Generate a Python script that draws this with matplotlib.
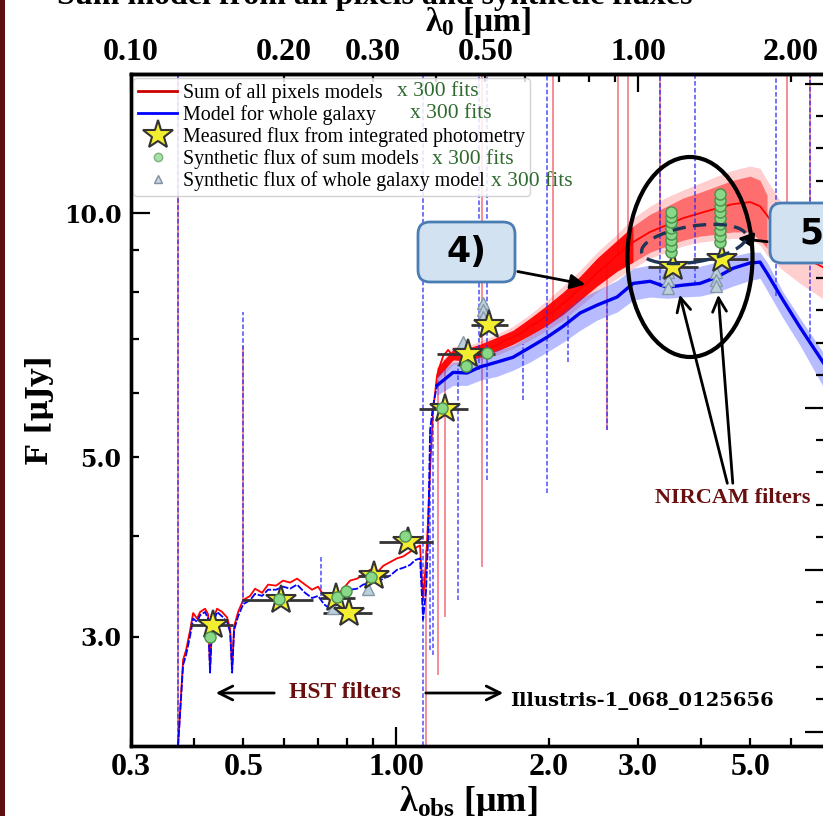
import numpy as np
import matplotlib
matplotlib.use("Agg")
import matplotlib.pyplot as plt
from matplotlib.lines import Line2D
from matplotlib.patches import Ellipse, FancyBboxPatch, Rectangle, FancyArrowPatch
from matplotlib.ticker import FixedLocator, FuncFormatter, MultipleLocator
from matplotlib.transforms import IdentityTransform

# ------------------------------------------------------------------ data
# UV part (observed wavelength, micron) shared by both model spectra
uv_wl = [0.3715, 0.3801, 0.3853, 0.3925, 0.3978, 0.4051, 0.4106, 0.4200, 0.4257, 0.4296,
         0.4335, 0.4435, 0.4537, 0.4642, 0.4706, 0.4749, 0.4792, 0.4880, 0.4992, 0.5152,
         0.5270, 0.5441, 0.5591, 0.5798, 0.5985, 0.6178, 0.6378, 0.6613, 0.6827, 0.7018,
         0.7211, 0.7411, 0.7649, 0.7861, 0.8115, 0.8378, 0.8609, 0.8886, 0.9174, 0.9427,
         0.9731, 1.0045, 1.0323, 1.0656, 1.0901, 1.1151]
red_uv = [2.20, 2.81, 2.89, 3.06, 3.21, 3.16, 3.22, 3.25, 3.20, 2.74,
          3.13, 3.25, 3.22, 3.17, 3.07, 2.74, 3.09, 3.22, 3.33, 3.37,
          3.44, 3.40, 3.48, 3.47, 3.52, 3.50, 3.54, 3.48, 3.43, 3.46,
          3.37, 3.33, 3.37, 3.44, 3.52, 3.54, 3.58, 3.63, 3.60, 3.67,
          3.71, 3.75, 3.77, 3.82, 3.86, 3.89]
blue_uv = [2.20, 2.77, 2.85, 3.01, 3.16, 3.13, 3.19, 3.22, 3.16, 2.71,
           3.09, 3.22, 3.18, 3.13, 3.04, 2.71, 3.06, 3.18, 3.29, 3.33,
           3.39, 3.37, 3.43, 3.43, 3.46, 3.44, 3.48, 3.40, 3.35, 3.37,
           3.29, 3.25, 3.29, 3.35, 3.43, 3.44, 3.48, 3.50, 3.50, 3.54,
           3.57, 3.63, 3.65, 3.68, 3.73, 3.75]

# Balmer / 4000A break
break_wl = [1.1305, 1.1460, 1.1564, 1.1670, 1.1830]
red_break = [3.33, 3.73, 4.18, 4.82, 5.71]
blue_break = [3.15, 3.43, 3.95, 5.40, 5.79]

# red (sum of pixel models) median after the break
red_post_wl = [1.2048, 1.2213, 1.2380, 1.2664, 1.2955, 1.3374, 1.3804, 1.4249, 1.4643, 1.5186,
               1.5821, 1.6406, 1.7013, 1.7642, 1.8377, 1.9055, 1.9862, 2.0591, 2.1352, 2.2138,
               2.3069, 2.3911, 2.4918, 2.6078, 2.7290, 2.8296, 2.9350, 3.1696, 3.4223, 3.6825,
               3.9774, 4.2963, 4.6216, 4.9918, 5.223, 5.392, 5.799, 6.263, 7.018]
red_post = [6.31, 6.49, 6.66, 6.78, 6.66, 6.74, 6.68, 6.78, 6.74, 6.81,
            6.87, 6.97, 7.03, 7.11, 7.25, 7.34, 7.48, 7.59, 7.74, 7.88,
            8.08, 8.22, 8.45, 8.63, 8.87, 9.05, 9.21, 9.48, 9.67, 9.86,
            10.0, 10.14, 10.26, 10.32, 10.20, 9.94, 9.26, 8.87, 8.55]

# spread of the 300 fits (band grid)
band_wl = [1.2048, 1.2955, 1.3804, 1.4643, 1.5821, 1.7013, 1.8377, 1.9862, 2.1352, 2.3069,
           2.4918, 2.7290, 2.9350, 3.1696, 3.4223, 3.6825, 3.9774, 4.2963, 4.6216, 4.9918,
           5.223, 5.392, 5.799, 6.263, 7.018]
red_outer_lo = [6.19, 6.51, 6.51, 6.59, 6.68, 6.81, 6.97, 7.17, 7.38, 7.68,
                7.99, 8.31, 8.55, 8.80, 8.95, 9.11, 9.21, 9.26, 9.31, 9.31,
                9.13, 8.87, 8.50, 8.19, 7.81]
red_outer_hi = [6.47, 6.85, 6.85, 6.95, 7.09, 7.25, 7.50, 7.81, 8.13, 8.50,
                8.95, 9.42, 9.86, 10.20, 10.47, 10.68, 10.89, 11.11, 11.30, 11.43,
                11.36, 10.98, 10.23, 9.80, 9.26]
red_core_lo = [6.26, 6.59, 6.57, 6.64, 6.76, 6.89, 7.07, 7.27, 7.50, 7.81,
               8.13, 8.48, 8.70, 8.95, 9.11, 9.26, 9.37, 9.42, 9.48, 9.48,
               9.26, 9.05, 8.70, 8.38, 8.03]
red_core_hi = [6.44, 6.79, 6.81, 6.89, 7.03, 7.17, 7.42, 7.70, 7.99, 8.36,
               8.80, 9.26, 9.64, 9.97, 10.20, 10.44, 10.61, 10.80, 10.98, 11.11,
               10.98, 10.52, 9.75, 9.31, 9.00]
blue_post = [6.13, 6.36, 6.35, 6.46, 6.55, 6.64, 6.83, 7.03, 7.25, 7.53,
             7.70, 7.88, 8.19, 8.24, 8.10, 8.15, 8.19, 8.34, 8.55, 8.68,
             8.70, 8.43, 7.81, 7.23, 6.49]
blue_band_lo = [5.96, 6.13, 6.13, 6.22, 6.29, 6.40, 6.55, 6.74, 6.93, 7.17,
                7.38, 7.55, 7.81, 7.88, 7.85, 7.88, 7.90, 7.99, 8.13, 8.26,
                8.31, 8.03, 7.42, 6.87, 6.05]
blue_band_hi = [6.31, 6.55, 6.55, 6.66, 6.78, 6.87, 7.07, 7.27, 7.55, 7.85,
                8.03, 8.26, 8.55, 8.63, 8.50, 8.55, 8.60, 8.70, 8.85, 8.95,
                8.95, 8.70, 7.99, 7.42, 6.68]

# emission / absorption line features (wavelength, lower flux, upper flux)
red_line_wl = [0.3715, 0.4992, 1.146, 1.210, 1.249, 1.478, 2.040, 2.608, 2.741, 2.868, 3.317, 5.904, 6.555]
red_line_lo = [2.2, 3.33, 2.2, 2.69, 3.17, 3.66, 7.38, 5.40, 8.9, 9.1, 9.6, 9.2, 8.7]
red_line_hi = [15, 6.85, 3.84, 6.22, 6.59, 15, 15, 8.6, 15, 15, 15, 15, 15]
blue_line_wl = [0.3715, 0.4992, 0.7113, 1.1305, 1.167, 1.183, 1.325, 1.458, 1.512, 1.780,
                1.986, 2.184, 2.608, 3.317, 3.888, 5.616, 6.555]
blue_line_lo = [2.2, 3.29, 3.37, 2.2, 2.89, 2.85, 3.33, 6.4, 4.68, 5.88,
                4.51, 6.55, 5.40, 8.1, 8.15, 7.9, 7.0]
blue_line_hi = [15, 7.55, 3.76, 15, 5.4, 5.8, 6.5, 15, 15, 6.9,
                15, 7.5, 7.8, 15, 15, 15, 15]

# measured photometry (filter centre, flux, filter edges)
phot_wl = [0.4355, 0.593, 0.76, 0.808, 0.905, 1.056, 1.249, 1.387, 1.526, 3.52, 4.40]
phot_flux = [3.10, 3.33, 3.35, 3.21, 3.57, 3.93, 5.74, 6.71, 7.27, 8.58, 8.77]
phot_lo = [0.393, 0.497, 0.708, 0.718, 0.841, 0.926, 1.110, 1.205, 1.406, 3.14, 3.85]
phot_hi = [0.477, 0.686, 0.830, 0.897, 0.964, 1.183, 1.387, 1.568, 1.663, 3.94, 4.95]

# synthetic fluxes of the sum models (x 300 fits)
sum_wl = [0.4296, 0.5878, 0.7649, 0.7969, 0.8927, 1.0418, 1.2322, 1.374, 1.512,
          3.486, 3.486, 3.486, 3.486, 3.486, 3.486, 3.486, 3.486,
          4.356, 4.356, 4.356, 4.356, 4.356, 4.356, 4.356, 4.356, 4.356]
sum_flux = [3.00, 3.34, 3.36, 3.42, 3.56, 4.00, 5.75, 6.47, 6.72,
            8.95, 9.11, 9.26, 9.42, 9.58, 9.75, 9.89, 10.03,
            9.21, 9.37, 9.53, 9.69, 9.86, 10.03, 10.20, 10.38, 10.56]

# synthetic fluxes of the whole galaxy model (x 300 fits)
gal_wl = [0.751, 0.881, 1.356, 1.484, 1.484, 1.484, 3.439, 3.439, 3.439, 4.278, 4.278, 4.278]
gal_flux = [3.26, 3.44, 6.93, 7.74, 7.59, 7.44, 8.46, 8.26, 8.08, 8.46, 8.28, 8.13]

# axis ticks
x_major = [1.0]
x_minor = [0.3, 0.4, 0.5, 0.6, 0.7, 0.8, 0.9, 2.0, 3.0, 4.0, 5.0, 6.0, 7.0]
x_minor_labelled = [0.3, 0.5, 2.0, 3.0, 5.0]
top_major = [0.1, 1.0]
top_minor = [0.2, 0.3, 0.4, 0.5, 0.6, 0.7, 0.8, 0.9, 2.0]
top_minor_labelled = [0.2, 0.3, 0.5, 2.0]
y_major = [10.0]
y_minor = [3.0, 4.0, 5.0, 6.0, 7.0, 8.0, 9.0]
y_minor_labelled = [3.0, 5.0]
redshift = 2.0

# ------------------------------------------------------------------ figure
W, H = 823, 816
plt.rcParams['font.family'] = ['Liberation Serif', 'DejaVu Serif']
plt.rcParams['font.weight'] = 'bold'
plt.rcParams['mathtext.fontset'] = 'custom'
plt.rcParams['mathtext.rm'] = 'Liberation Serif'
plt.rcParams['mathtext.bf'] = 'Liberation Serif:bold'
plt.rcParams['mathtext.it'] = 'Liberation Serif:italic'

fig = plt.figure(figsize=(W / 100, H / 100), dpi=100)
ax = fig.add_axes([131 / W, 70 / H, 693.5 / W, 672 / H])
ax.set_xscale('log')
ax.set_yscale('log')
ax.set_xlim(0.3, 7.0)
ax.set_ylim(2.2, 14.85)

bw = np.array(band_wl)
# red band (300 fits)
ax.fill_between(band_wl, red_outer_lo, red_outer_hi, color='#ff2020', alpha=0.22, lw=0, zorder=1)
ax.fill_between(band_wl, red_core_lo, red_core_hi, where=(bw >= 2.93) & (bw <= 5.4),
                color='#ff1010', alpha=0.5, lw=0, zorder=1)
ax.fill_between(band_wl, red_core_lo, red_core_hi, where=bw <= 2.94,
                color='#ff0000', alpha=0.95, lw=0, zorder=2)
red_wl = uv_wl + break_wl + red_post_wl
red_flux = red_uv + red_break + red_post
ax.plot(red_wl, red_flux, color='#ff0000', lw=1.3, zorder=2)
ax.vlines(red_line_wl, red_line_lo, red_line_hi, colors='#ee2030', lw=1.1, alpha=0.65, zorder=1)

# blue (whole galaxy model)
ax.fill_between(band_wl, blue_band_lo, blue_band_hi, color='#3040ff', alpha=0.35, lw=0, zorder=3)
blue_wl = uv_wl + break_wl + band_wl
blue_flux = blue_uv + blue_break + blue_post
ax.plot(blue_wl, blue_flux, color='#0000ff', lw=1.3, ls=(0, (4, 1)), zorder=3)
ax.plot(band_wl, blue_post, color='#0000ee', lw=2.4, zorder=3)
ax.vlines(blue_line_wl, blue_line_lo, blue_line_hi, colors='#2020ff', lw=1.1,
          linestyles=(0, (3, 1.5)), alpha=0.8, zorder=2)

# photometry
xerr = [np.array(phot_wl) - np.array(phot_lo), np.array(phot_hi) - np.array(phot_wl)]
ax.errorbar(phot_wl, phot_flux, xerr=xerr, fmt='none', ecolor='#333333', elinewidth=2, capsize=0, zorder=4)
ax.plot(gal_wl, gal_flux, ls='none', marker='^', ms=8, mfc='#bcd0dc', mec='#8598a8', mew=1, zorder=4)
ax.plot(phot_wl, phot_flux, ls='none', marker='*', ms=22, mfc='#f4ee30', mec='#333333', mew=1.5, zorder=5)
ax.plot(sum_wl, sum_flux, ls='none', marker='o', ms=8, mfc='#88d888', mec='#4b8f4b', mew=1, zorder=6)

# ticks
ax.xaxis.set_major_locator(FixedLocator(x_major))
ax.xaxis.set_major_formatter(FuncFormatter(lambda v, p: '%.2f' % v))
ax.xaxis.set_minor_locator(FixedLocator(x_minor))
ax.xaxis.set_minor_formatter(FuncFormatter(
    lambda v, p: ('%.1f' % v) if any(abs(v - t) < 1e-6 for t in x_minor_labelled) else ''))
ax.yaxis.set_major_locator(FixedLocator(y_major))
ax.yaxis.set_major_formatter(FuncFormatter(lambda v, p: '%.1f' % v))
ax.yaxis.set_minor_locator(FixedLocator(y_minor))
ax.yaxis.set_minor_formatter(FuncFormatter(
    lambda v, p: ('%.1f' % v) if any(abs(v - t) < 1e-6 for t in y_minor_labelled) else ''))
ax.tick_params(which='both', direction='in', width=1.6, top=False, right=False)
ax.tick_params(which='major', length=14)
ax.tick_params(which='minor', length=5.5)
ax.tick_params(axis='x', which='both', labelsize=23, pad=5)
ax.tick_params(axis='y', which='both', labelsize=17, pad=7, labelfontfamily='DejaVu Serif')
for s in ax.spines.values():
    s.set_linewidth(2.4)

secx = ax.secondary_xaxis('top', functions=(lambda x: x / (1 + redshift), lambda x: x * (1 + redshift)))
secx.xaxis.set_major_locator(FixedLocator(top_major))
secx.xaxis.set_major_formatter(FuncFormatter(lambda v, p: '%.2f' % v))
secx.xaxis.set_minor_locator(FixedLocator(top_minor))
secx.xaxis.set_minor_formatter(FuncFormatter(
    lambda v, p: ('%.2f' % v) if any(abs(v - t) < 1e-6 for t in top_minor_labelled) else ''))
secx.tick_params(which='both', direction='in', width=1.6, labelsize=23, pad=5)
secx.tick_params(which='major', length=13)
secx.tick_params(which='minor', length=5.5)
secx.spines['top'].set_linewidth(2.4)

# right axis in AB magnitudes
ax2 = ax.twinx()
ax2.set_ylim(23.9 - 2.5 * np.log10(2.2), 23.9 - 2.5 * np.log10(14.85))
ax2.yaxis.set_major_locator(MultipleLocator(0.5))
ax2.yaxis.set_minor_locator(MultipleLocator(0.1))
ax2.tick_params(which='both', direction='in', width=1.6, labelright=False)
ax2.tick_params(which='major', length=14)
ax2.tick_params(which='minor', length=5.5)
for s in ax2.spines.values():
    s.set_linewidth(2.4)

# legend
handles = [
    Line2D([], [], color='#cc0000', lw=2),
    Line2D([], [], color='#0000ff', lw=2),
    Line2D([], [], ls='none', marker='*', ms=22, mfc='#f4ee30', mec='#333333', mew=1.5),
    Line2D([], [], ls='none', marker='o', ms=6, mfc='#a8e0a8', mec='#80b080', mew=1),
    Line2D([], [], ls='none', marker='^', ms=6, mfc='#c8d4e0', mec='#8090a0', mew=1),
]
labels = ['Sum of all pixels models', 'Model for whole galaxy',
          'Measured flux from integrated photometry', 'Synthetic flux of sum models',
          'Synthetic flux of whole galaxy model']
leg = ax.legend(handles, labels, loc='upper left', bbox_to_anchor=(0.003, 0.994), borderaxespad=0,
                prop={'family': 'Liberation Serif', 'weight': 'normal', 'size': 14.4},
                labelspacing=0.1, handlelength=1.95, handletextpad=0.3, borderpad=0.25,
                frameon=True, fancybox=True, edgecolor='#cccccc', framealpha=0.85)
leg.set_zorder(10)

def fx(x):
    return x / W

def fy(y):
    return 1 - y / H

for (xx, yy) in [(397, 91), (410, 113), (432, 160), (491, 182)]:
    fig.text(fx(xx), fy(yy), 'x 300 fits', color='#2e6a2e', fontsize=15.5, weight='normal',
             family='Liberation Serif', ha='left', va='center', zorder=11)

# axis labels and title
fig.text(fx(375), fy(4), 'Sum model from all pixels and synthetic fluxes', fontsize=23,
         ha='center', va='baseline')
fig.text(fx(478), fy(31), r'λ$_\mathbf{0}$ [μm]', fontsize=24, ha='center', va='baseline')
fig.text(fx(468), fy(811), r'λ$_\mathbf{obs}$ [μm]', fontsize=26, ha='center', va='baseline')
fig.text(fx(40), fy(410), 'F [μJy]', fontsize=21, family='DejaVu Serif', rotation=90,
         ha='center', va='center')

# left border stripe
fig.add_artist(Rectangle((0, 0), 5 / W, 1, transform=fig.transFigure, color='#5e1010', lw=0))

# annotations (pixel coordinates, origin top-left)
T = IdentityTransform()

def P(x, y):
    return (x, H - y)

box4 = FancyBboxPatch(P(418, 282), 97, 60, boxstyle='round,pad=0,rounding_size=12',
                      transform=T, fc='#d3e2f1', ec='#4a7db3', lw=2, zorder=20)
fig.add_artist(box4)
fig.text(fx(466), fy(252), '4)', family='DejaVu Sans', fontsize=25, ha='center', va='center', zorder=21)
box5 = FancyBboxPatch(P(770, 263), 80, 60, boxstyle='round,pad=0,rounding_size=12',
                      transform=T, fc='#d3e2f1', ec='#4a7db3', lw=2, zorder=20)
fig.add_artist(box5)
fig.text(fx(799), fy(234), '5)', family='DejaVu Sans', fontsize=25, ha='left', va='center', zorder=21)

arrow_kw = dict(transform=T, color='k', lw=2, zorder=19)
fig.add_artist(FancyArrowPatch(P(515, 271), P(588, 285), arrowstyle='-|>', mutation_scale=22, **arrow_kw))
fig.add_artist(FancyArrowPatch(P(770, 242), P(735, 238), arrowstyle='-|>', mutation_scale=22, **arrow_kw))
fig.add_artist(Ellipse(P(690, 257), 125, 200, transform=T, fill=False, ec='k', lw=3, zorder=19))
fig.add_artist(Ellipse(P(694, 244), 106, 36, angle=9, transform=T, fill=False, ec='#1e3556',
                       lw=2.4, ls=(0, (4, 2.2)), zorder=19))
fig.add_artist(FancyArrowPatch(P(728, 486), P(679, 292), arrowstyle='->', mutation_scale=25, **arrow_kw))
fig.add_artist(FancyArrowPatch(P(733, 486), P(718, 292), arrowstyle='->', mutation_scale=25, **arrow_kw))
fig.add_artist(FancyArrowPatch(P(277, 693), P(213, 693), arrowstyle='->', mutation_scale=25, **arrow_kw))
fig.add_artist(FancyArrowPatch(P(423, 693), P(506, 693), arrowstyle='->', mutation_scale=25, **arrow_kw))

fig.text(fx(345), fy(693), 'HST filters', color='#6a0f0f', fontsize=17, ha='center', va='center')
fig.text(fx(733), fy(498), 'NIRCAM filters', color='#6a0f0f', fontsize=16, ha='center', va='center')
fig.text(fx(510), fy(701), 'Illustris-1_068_0125656', family='DejaVu Serif', fontsize=14,
         ha='left', va='center')

fig.savefig('out.png', dpi=100)
